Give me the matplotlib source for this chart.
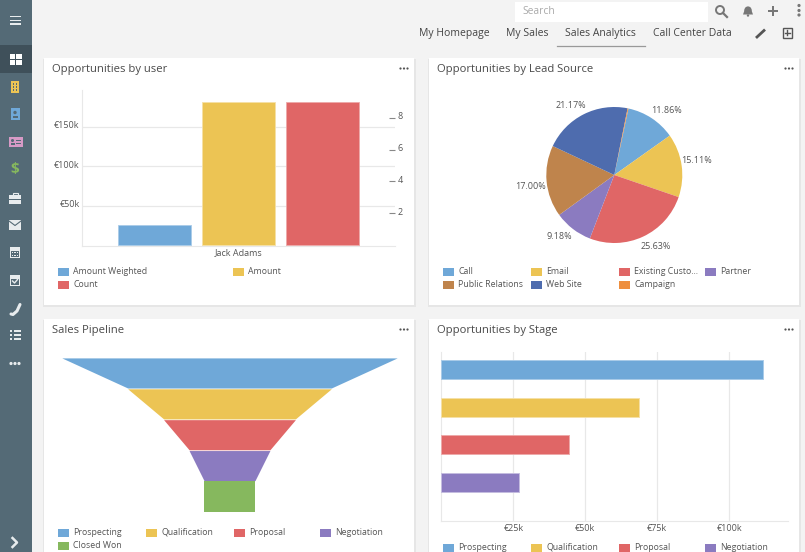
import matplotlib
matplotlib.use("Agg")
import matplotlib.pyplot as plt
from matplotlib.patches import Rectangle, Circle, Polygon
from matplotlib.transforms import ScaledTranslation

plt.rcParams['font.family'] = ['Open Sans', 'DejaVu Sans']

W, H = 805, 552

BLUE = '#6fa8d8'
YELLOW = '#ecc454'
RED = '#e06666'
PURPLE = '#8b7bc0'
BROWN = '#bf844c'
NAVY = '#4e6cae'
ORANGE = '#ee8f3f'
GREEN = '#86b85e'
TEXT = '#555555'
LINE = '#e8e8e8'

# Opportunities by user
user_names = ['Jack Adams']
amount_weighted = [25000]
amount = [182000]
count = [9]
left_ticks = [50000, 100000, 150000]
left_labels = ['€50k', '€100k', '€150k']
right_ticks = [2, 4, 6, 8]

# Opportunities by Lead Source
source_names = ['Call', 'Email', 'Existing Custo...', 'Partner', 'Public Relations', 'Web Site', 'Campaign']
source_values = [11.86, 15.11, 25.63, 9.18, 17.00, 21.17, 0.2]
source_colors = [BLUE, YELLOW, RED, PURPLE, BROWN, NAVY, ORANGE]

# Sales Pipeline
pipeline_names = ['Prospecting', 'Qualification', 'Proposal', 'Negotiation', 'Closed Won']
pipeline_values = [112, 68, 44, 27, 17]
pipeline_colors = [BLUE, YELLOW, RED, PURPLE, GREEN]

# Opportunities by Stage
stage_names = ['Prospecting', 'Qualification', 'Proposal', 'Negotiation']
stage_values = [111600, 68800, 44300, 27100]
stage_colors = [BLUE, YELLOW, RED, PURPLE]
stage_ticks = [25000, 50000, 75000, 100000]
stage_labels = ['€25k', '€50k', '€75k', '€100k']

tabs = ['My Homepage', 'My Sales', 'Sales Analytics', 'Call Center Data']


def px_axes(x0, y0, x1, y1):
    # axes from pixel box, y counted from the top of the image
    ax = fig.add_axes([x0 / W, 1 - y1 / H, (x1 - x0) / W, (y1 - y0) / H])
    ax.patch.set_alpha(0)
    return ax


def style_axes(ax):
    for side in ['top', 'right', 'left', 'bottom']:
        ax.spines[side].set_visible(False)
    ax.tick_params(length=0, labelsize=6.5, labelcolor=TEXT)


def lift_labels(ax, pixels=2):
    # y labels sit a little above their tick in the reference
    offset = ScaledTranslation(0, pixels / 100, fig.dpi_scale_trans)
    for label in ax.get_yticklabels():
        label.set_transform(label.get_transform() + offset)


def card(x0, y0, x1, y1, title):
    bg.add_patch(Rectangle((x0 - 1, y0 + 1), x1 - x0 + 3, y1 - y0 + 1, fc='#e6e6e6', ec='none'))
    bg.add_patch(Rectangle((x0, y0), x1 - x0, y1 - y0, fc='white', ec='none'))
    bg.text(x0 + 8, y0 + 11.5, title, fontsize=8.1, color='#4a4a4a', va='center')
    for dx in [-13.5, -10, -6.5]:
        bg.add_patch(Circle((x1 + dx, y0 + 10.5), 1.1, fc='#555555', ec='none'))


def legend(names, colors, xs, ys):
    for name, color, x, y in zip(names, colors, xs, ys):
        bg.add_patch(Rectangle((x, y - 3), 11, 8, fc=color, ec='none'))
        bg.text(x + 15, y + 0.3, name, fontsize=6.35, color=TEXT, va='center')


fig = plt.figure(figsize=(W / 100, H / 100), dpi=100, facecolor='#f3f3f3')
bg = fig.add_axes([0, 0, 1, 1])
bg.set_xlim(0, W)
bg.set_ylim(H, 0)
bg.axis('off')

# sidebar
bg.add_patch(Rectangle((0, 0), 32, H, fc='#546a76', ec='none'))
bg.add_patch(Rectangle((0, 45), 32, 28, fc='#3f505a', ec='none'))
for y in [16.5, 20.5, 24]:
    bg.add_patch(Rectangle((10, y - 0.8), 11, 1.6, fc='#e8ecee', ec='none'))
for x, y in [(9.5, 53.5), (16, 53.5), (9.5, 60), (16, 60)]:
    bg.add_patch(Rectangle((x, y), 5.5, 5, fc='white', ec='none'))
bg.add_patch(Rectangle((11, 81), 8, 12, fc=YELLOW, ec='none'))
for x in [13, 16]:
    for y in [83, 86, 89]:
        bg.add_patch(Rectangle((x, y), 1.2, 1.5, fc='#546a76', ec='none'))
bg.add_patch(Rectangle((10.5, 108), 9, 12, fc=BLUE, ec='none'))
bg.add_patch(Circle((15, 112.5), 1.7, fc='#546a76', ec='none'))
bg.add_patch(Rectangle((12.5, 115.5), 5, 2.5, fc='#546a76', ec='none'))
bg.add_patch(Rectangle((9, 136.5), 13.5, 10, fc='#d79ac6', ec='none'))
bg.add_patch(Circle((12.5, 140.5), 1.5, fc='#546a76', ec='none'))
bg.add_patch(Rectangle((10.5, 143), 4, 2, fc='#546a76', ec='none'))
bg.add_patch(Rectangle((16, 140), 5, 1, fc='#546a76', ec='none'))
bg.add_patch(Rectangle((16, 143), 5, 1, fc='#546a76', ec='none'))
bg.text(15, 169, '$', fontsize=11, fontweight='bold', color=GREEN, ha='center', va='center')
bg.add_patch(Rectangle((9, 195), 12, 9, fc='#e8ecee', ec='none'))
bg.add_patch(Rectangle((12.5, 192.5), 5, 2.5, fc='none', ec='#e8ecee', lw=0.8))
bg.add_patch(Rectangle((9, 199), 12, 0.8, fc='#546a76', ec='none'))
bg.add_patch(Rectangle((9, 220), 12, 9.5, fc='#e8ecee', ec='none'))
bg.plot([9, 15, 21], [221, 225.5, 221], color='#546a76', lw=0.8)
for y in [247, 275]:
    bg.add_patch(Rectangle((10, y), 10, 11, fc='#e8ecee', ec='none'))
    bg.add_patch(Rectangle((11, y + 3.5), 8, 6.5, fc='#546a76', ec='none'))
for x in [12, 14.3, 16.6]:
    for y in [251.5, 254.5]:
        bg.add_patch(Rectangle((x, y), 1.4, 1.6, fc='#e8ecee', ec='none'))
bg.plot([12.5, 14.5, 17.5], [281, 283, 279.5], color='#e8ecee', lw=1)
bg.plot([11, 13, 17, 20], [314, 314.5, 311, 304.5], color='#e8ecee', lw=2.2, solid_capstyle='round')
for y in [331, 335, 339]:
    bg.add_patch(Rectangle((14, y - 0.7), 7, 1.4, fc='#e8ecee', ec='none'))
    bg.add_patch(Rectangle((10, y - 0.7), 2, 1.4, fc='#e8ecee', ec='none'))
for x in [11, 15, 19]:
    bg.add_patch(Circle((x, 363.5), 1.6, fc='#e8ecee', ec='none'))
bg.plot([12.5, 17, 12.5], [538, 542.5, 547], color='#e8ecee', lw=1.8)

# top bar
bg.add_patch(Rectangle((515, 2), 193, 20, fc='white', ec='none'))
bg.text(522, 11.5, 'Search', fontsize=7.4, color='#aaaaaa', va='center')
bg.add_patch(Circle((720, 10), 4, fc='none', ec='#777777', lw=1.4))
bg.plot([723, 727], [13, 17], color='#777777', lw=1.6)
bg.add_patch(Circle((748, 10), 3.6, fc='#777777', ec='none'))
bg.add_patch(Polygon([(743, 14.5), (753, 14.5), (751, 9), (745, 9)], fc='#777777', ec='none'))
bg.add_patch(Circle((748, 15.5), 1.2, fc='#777777', ec='none'))
bg.add_patch(Rectangle((768, 9.7), 10, 2, fc='#777777', ec='none'))
bg.add_patch(Rectangle((772, 5.7), 2, 10, fc='#777777', ec='none'))
for y in [5.5, 10.5, 15]:
    bg.add_patch(Circle((799, y), 1.6, fc='#777777', ec='none'))
for name, x in zip(tabs, [419, 506, 565, 652.5]):
    bg.text(x, 33.3, name, fontsize=7.45, color='#444444', va='center')
bg.plot([556.5, 644.5], [45.5, 45.5], color='#999999', lw=0.9)
bg.plot([757, 764], [37, 30.5], color='#555555', lw=2)
bg.add_patch(Rectangle((782.5, 27.5), 9.5, 10, fc='none', ec='#555555', lw=1))
bg.plot([784.8, 789.8], [32.5, 32.5], color='#555555', lw=1)
bg.plot([787.3, 787.3], [30, 35], color='#555555', lw=1)

card(44, 58, 414, 305, 'Opportunities by user')
card(429, 58, 799, 305, 'Opportunities by Lead Source')
card(44, 319, 414, 552, 'Sales Pipeline')
card(429, 319, 799, 552, 'Opportunities by Stage')

# Opportunities by user
ax = px_axes(81.8, 90, 395.2, 246)
style_axes(ax)
ax.set_xlim(-0.5, 0.5)
ax.set_ylim(-1300, 196700)
ax.bar(-0.2688, amount_weighted[0], width=0.2326, color=BLUE, edgecolor='#a9cbe8', linewidth=0.6, zorder=3)
ax.bar(0, amount[0], width=0.2326, color=YELLOW, edgecolor='#f5e0a6', linewidth=0.6, zorder=3)
ax.set_yticks(left_ticks)
ax.set_yticklabels(left_labels)
ax.yaxis.grid(True, color=LINE, lw=0.9)
ax.set_axisbelow(True)
ax.set_xticks([0])
ax.set_xticklabels(user_names)
ax.tick_params(axis='x', pad=1.5)
ax.tick_params(axis='y', pad=1.5)
ax.spines['left'].set_visible(True)
ax.spines['left'].set_color(LINE)
ax.spines['bottom'].set_visible(True)
ax.spines['bottom'].set_color(LINE)
lift_labels(ax)
ax2 = ax.twinx()
style_axes(ax2)
ax2.patch.set_alpha(0)
ax2.set_ylim(-0.06, 9.75)
ax2.bar(0.2688, count[0], width=0.2326, color=RED, edgecolor='#eda9a9', linewidth=0.6, zorder=3)
ax2.set_yticks(right_ticks)
ax2.tick_params(axis='y', direction='in', length=4.5, width=0.8, color='#888888', pad=2)
lift_labels(ax2)
legend(['Amount Weighted', 'Amount', 'Count'], [BLUE, YELLOW, RED], [58, 233, 58], [271, 271, 284])

# Opportunities by Lead Source
pie_ax = px_axes(546.3, 107, 682.3, 243)
pie_ax.pie(source_values, colors=source_colors, startangle=78, counterclock=False, radius=1,
           wedgeprops={'linewidth': 0})
pie_ax.set_xlim(-1, 1)
pie_ax.set_ylim(-1, 1)
pie_label_pos = [(667, 110.5), (697, 160.5), (656, 246.5), (559, 236.5), (530.7, 186.5), (570.7, 105.5)]
for v, (x, y) in zip(source_values, pie_label_pos):
    bg.text(x, y, f'{v:.2f}%', fontsize=6.5, color=TEXT, ha='center', va='center')
legend(source_names, source_colors,
       [443, 531, 619, 705, 443, 531, 619], [271, 271, 271, 271, 284, 284, 284])

# Sales Pipeline
funnel_ax = px_axes(61.8, 357.6, 397.2, 512)
funnel_ax.axis('off')
top = pipeline_values[0]
funnel_ax.set_xlim(-top / 2, top / 2)
funnel_ax.set_ylim(len(pipeline_values), 0)
for i, (v, c) in enumerate(zip(pipeline_values, pipeline_colors)):
    nxt = pipeline_values[i + 1] if i + 1 < len(pipeline_values) else v
    funnel_ax.fill_betweenx([i + 0.01, i + 0.985], [-v / 2, -nxt / 2], [v / 2, nxt / 2],
                            color=c, linewidth=0)
legend(pipeline_names, pipeline_colors, [58, 146, 234, 320, 58], [532, 532, 532, 532, 545])

# Opportunities by Stage
stage_ax = px_axes(440.5, 351.5, 788, 521)
style_axes(stage_ax)
stage_ax.set_xlim(-300, 120400)
stage_ax.set_ylim(4.02, -0.477)
stage_ax.barh(range(len(stage_values)), stage_values, height=0.5, color=stage_colors,
              edgecolor=['#a9cbe8', '#f5e0a6', '#eda9a9', '#c5bde0'], linewidth=0.7, zorder=3)
stage_ax.set_yticks([])
stage_ax.set_xticks(stage_ticks)
stage_ax.set_xticklabels(stage_labels)
stage_ax.tick_params(axis='x', pad=2)
stage_ax.xaxis.grid(True, color=LINE, lw=0.9)
stage_ax.set_axisbelow(True)
stage_ax.spines['left'].set_visible(True)
stage_ax.spines['left'].set_color(LINE)
stage_ax.spines['bottom'].set_visible(True)
stage_ax.spines['bottom'].set_color(LINE)
legend(stage_names, stage_colors, [443, 531, 619, 705], [547, 547, 547, 547])

fig.savefig('out.png', dpi=100, facecolor=fig.get_facecolor())
